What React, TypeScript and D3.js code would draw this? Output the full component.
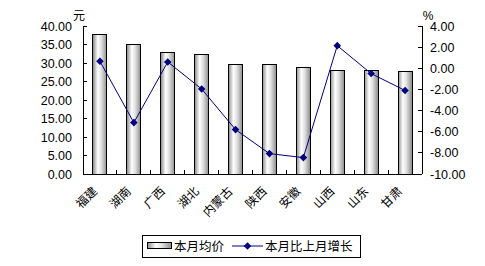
import React from 'react';
import * as d3 from 'd3';

const categories = ['福建', '湖南', '广西', '湖北', '内蒙古', '陕西', '安徽', '山西', '山东', '甘肃'];
const avgPrice = [37.6, 35.1, 32.9, 32.4, 29.5, 29.5, 28.9, 28.0, 28.0, 27.8];
const monthChange = [0.66, -5.14, 0.6, -1.96, -5.8, -8.07, -8.45, 2.14, -0.5, -2.1];
const leftTicks = [0, 5, 10, 15, 20, 25, 30, 35, 40];
const rightTicks = [-10, -8, -6, -4, -2, 0, 2, 4];
const seriesNames = ['本月均价', '本月比上月增长'];

const W = 485, H = 266;
const left = 83, right = 422, top = 26, bottom = 174;
const numFont = '"Liberation Sans", Arial, sans-serif';
const cjkFont = '"Noto Sans CJK SC", sans-serif';

export default function App() {
  const x = d3.scaleBand<string>().domain(categories).range([left, right]).paddingInner(0).paddingOuter(0);
  const yL = d3.scaleLinear().domain([0, 40]).range([bottom, top]);
  const yR = d3.scaleLinear().domain([-10, 4]).range([bottom, top]);
  const bw = 14;
  const line = d3.line<number>()
    .x((_, i) => (x(categories[i]) as number) + x.bandwidth() / 2)
    .y(d => yR(d));
  const diamond = 'M0,-3.8L3.8,0L0,3.8L-3.8,0Z';
  const boundaries = d3.range(categories.length + 1).map(i => left + i * x.bandwidth());

  return (
    <svg width={W} height={H} style={{ position: 'absolute', left: 0, top: 0, background: '#fff' }}>
      <defs>
        <linearGradient id="barGrad" x1="0" x2="1" y1="0" y2="0">
          <stop offset="0" stopColor="#8c8c8c" />
          <stop offset="0.35" stopColor="#ffffff" />
          <stop offset="0.6" stopColor="#e0e0e0" />
          <stop offset="1" stopColor="#8c8c8c" />
        </linearGradient>
      </defs>
      {avgPrice.map((v, i) => {
        const cx = (x(categories[i]) as number) + x.bandwidth() / 2;
        return (
          <rect key={i} x={cx - bw / 2} y={yL(v)} width={bw} height={bottom - yL(v)}
            fill="url(#barGrad)" stroke="#000" strokeWidth={1} shapeRendering="crispEdges" />
        );
      })}
      <line x1={left} x2={left} y1={top} y2={bottom} stroke="#000" shapeRendering="crispEdges" />
      <line x1={right} x2={right} y1={top} y2={bottom} stroke="#000" shapeRendering="crispEdges" />
      <line x1={left} x2={right} y1={bottom} y2={bottom} stroke="#000" shapeRendering="crispEdges" />
      {leftTicks.map(t => (
        <g key={'l' + t}>
          <line x1={left} x2={left + 4} y1={yL(t)} y2={yL(t)} stroke="#000" shapeRendering="crispEdges" />
          <text x={left - 11} y={yL(t)} dy="0.36em" textAnchor="end" fontFamily={numFont} fontSize={12.5}>{t.toFixed(2)}</text>
        </g>
      ))}
      {rightTicks.map(t => (
        <g key={'r' + t}>
          <line x1={right - 4} x2={right} y1={yR(t)} y2={yR(t)} stroke="#000" shapeRendering="crispEdges" />
          <text x={right + 8} y={yR(t)} dy="0.36em" textAnchor="start" fontFamily={numFont} fontSize={12.5}>{t.toFixed(2)}</text>
        </g>
      ))}
      {boundaries.slice(1, -1).map((bx, i) => (
        <line key={'b' + i} x1={bx} x2={bx} y1={bottom} y2={bottom - 4} stroke="#000" shapeRendering="crispEdges" />
      ))}
      <text x={79} y={20} textAnchor="middle" fontFamily={cjkFont} fontSize={12}>元</text>
      <text x={428} y={20} textAnchor="middle" fontFamily={numFont} fontSize={12}>%</text>
      {categories.map((c, i) => {
        const cx = (x(c) as number) + x.bandwidth() / 2;
        return (
          <text key={c} transform={`translate(${cx - 5},${189}) rotate(-45)`} textAnchor="end"
            dy="0.35em" fontFamily={cjkFont} fontSize={12}>{c}</text>
        );
      })}
      <path d={line(monthChange) as string} fill="none" stroke="#000080" strokeWidth={1} />
      {monthChange.map((v, i) => (
        <path key={i} d={diamond} fill="#000080"
          transform={`translate(${(x(categories[i]) as number) + x.bandwidth() / 2},${yR(v)})`} />
      ))}
      <rect x={142.5} y={235.5} width={218} height={22} fill="#fff" stroke="#000" />
      <rect x={147.5} y={242.5} width={24} height={6} fill="url(#barGrad)" stroke="#000" />
      <text x={174} y={246} dy="0.36em" fontFamily={cjkFont} fontSize={12.5}>{seriesNames[0]}</text>
      <line x1={232} x2={263} y1={246} y2={246} stroke="#000080" />
      <path d={diamond} fill="#000080" transform="translate(247.5,246)" />
      <text x={265} y={246} dy="0.36em" fontFamily={cjkFont} fontSize={12.5}>{seriesNames[1]}</text>
    </svg>
  );
}
